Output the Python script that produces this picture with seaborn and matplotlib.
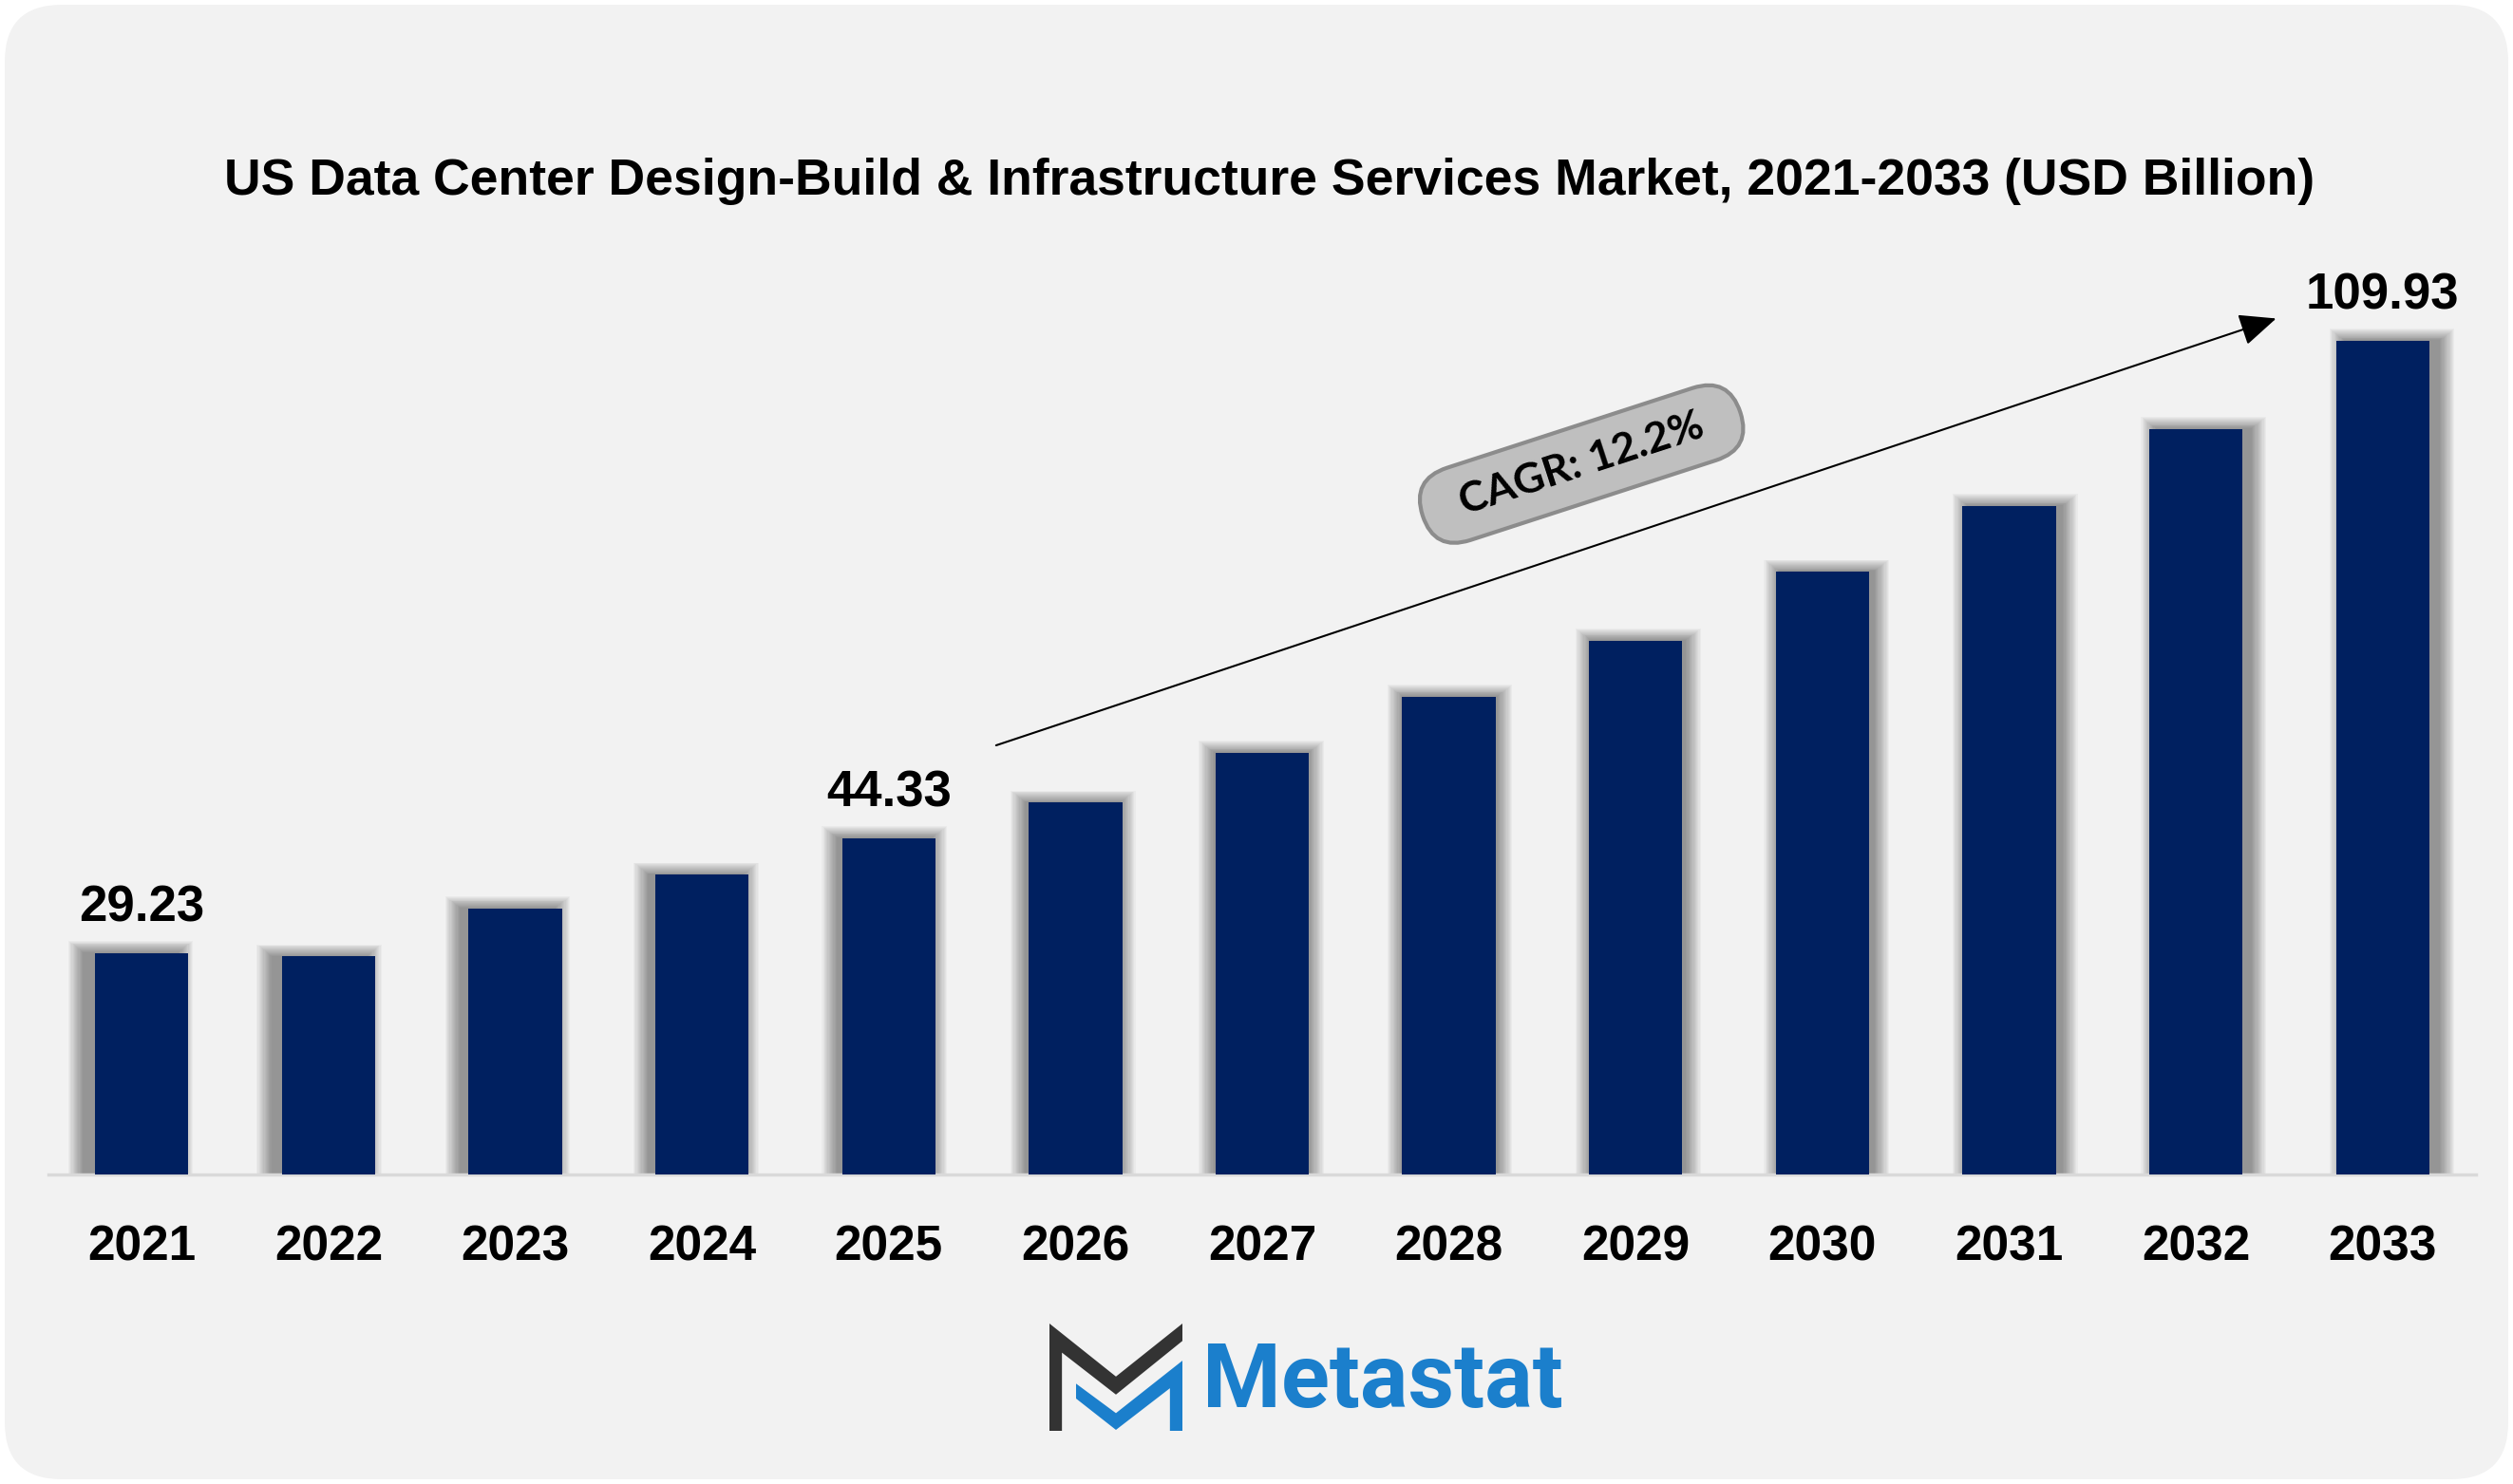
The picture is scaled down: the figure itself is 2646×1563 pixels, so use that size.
import numpy as np
import pandas as pd
import matplotlib.pyplot as plt
import seaborn as sns
from matplotlib.patches import FancyBboxPatch, Polygon
from matplotlib.transforms import IdentityTransform

# Data
years = ['2021', '2022', '2023', '2024', '2025', '2026', '2027',
         '2028', '2029', '2030', '2031', '2032', '2033']
values = [29.23, 28.75, 35.09, 39.53, 44.33, 49.04, 55.59,
          62.99, 70.39, 79.48, 88.14, 98.29, 109.93]
labeled_years = ['2021', '2025', '2033']

title = "US Data Center Design-Build & Infrastructure Services Market, 2021-2033 (USD Billion)"
cagr_text = "  CAGR: 12.2%  "
brand = "Metastat"

bar_color = '#002060'
bg_color = '#F2F2F2'

# Setup
sns.set_theme(style="white")
plt.rcParams['font.family'] = ['Liberation Sans', 'DejaVu Sans']

W, H = 2646, 1563
fig = plt.figure(figsize=(W / 100, H / 100), dpi=100)
fig.patch.set_facecolor('white')

# fondo redondeado
r = 60
panel = FancyBboxPatch((5 + r, 5 + r), W - 10 - 2 * r, H - 10 - 2 * r,
                       boxstyle=f"round,pad={r}", transform=IdentityTransform(),
                       fc=bg_color, ec='none', zorder=0)
fig.add_artist(panel)

ax = fig.add_axes([51 / W, 326 / H, (2607 - 51) / W, (1237 - 250) / H])
ax.set_facecolor('none')

df = pd.DataFrame({'year': years, 'value': values})
x_pos = np.arange(len(years))
vals = np.array(values)

# sombras difusas detras de las barras (desplazadas hacia fuera)
n_layers = 14
shift = (x_pos - 6.5) / 6 * 0.055
for k in range(n_layers):
    f = (k + 1) / n_layers
    ax.bar(x_pos + shift, vals + 1.6 * f, width=0.5 + 0.17 * f,
           color='black', alpha=0.033, linewidth=0, zorder=1)

sns.barplot(data=df, x='year', y='value', color=bar_color, width=0.5,
            saturation=1, ax=ax, zorder=3, linewidth=0)

for i, (yr, v) in enumerate(zip(years, values)):
    if yr in labeled_years:
        ax.annotate(f"{v:.2f}", (i, v), xytext=(0, 34), textcoords='offset points',
                    ha='center', va='center', fontsize=38, fontweight='bold', color='black')

ax.set_xlim(-0.5, 12.5)
ax.set_ylim(0, 123.6)
ax.set_yticks([])
ax.set_xlabel('')
ax.set_ylabel('')
sns.despine(ax=ax, left=True)
ax.spines['bottom'].set_color('#D9D9D9')
ax.spines['bottom'].set_linewidth(2.5)
ax.tick_params(axis='x', length=0, pad=38, labelsize=37)
for lab in ax.get_xticklabels():
    lab.set_fontweight('bold')
    lab.set_color('black')

# flecha CAGR
ax.annotate('', xy=(11.43, 112.9), xytext=(4.575, 56.6),
            arrowprops=dict(arrowstyle='-|>,head_length=0.8,head_width=0.35',
                            color='black', lw=1.5, mutation_scale=30,
                            shrinkA=0, shrinkB=0), zorder=4)
ax.text(7.71, 93.7, cagr_text, rotation=18, rotation_mode='anchor',
        ha='center', va='center', fontsize=32, fontweight='bold',
        family=['Lato', 'DejaVu Sans'], color='black', zorder=5,
        bbox=dict(boxstyle='round,pad=0.45,rounding_size=0.9',
                  fc='#BFBFBF', ec='#8C8C8C', lw=3))

# titulo
fig.text(0.505, 0.878, title, ha='center', va='center',
         fontsize=38.5, fontweight='bold', color='black')

# logo
x0, y0, lw_, lh_ = 1105, 1394, 140, 113
dark_pts = [(0, 0), (0.5, 0.494), (1, 0), (1, 0.162), (0.5, 0.662),
            (0.094, 0.271), (0.094, 1), (0, 1)]
blue_pts = [(0.2, 0.56), (0.5, 0.835), (1, 0.346), (1, 1), (0.906, 1),
            (0.906, 0.603), (0.5, 0.991), (0.2, 0.699)]
for pts, col in [(dark_pts, '#333333'), (blue_pts, '#1B7FCC')]:
    xy = [(x0 + px * lw_, H - (y0 + py * lh_)) for px, py in pts]
    fig.add_artist(Polygon(xy, closed=True, transform=IdentityTransform(),
                           fc=col, ec='none', zorder=5))
fig.text(1266 / W, 1 - 1482 / H, brand, ha='left', va='baseline',
         fontsize=68, fontweight='bold', family=['Roboto', 'DejaVu Sans'],
         color='#1B7FCC')

plt.savefig('out.png', dpi=100)
